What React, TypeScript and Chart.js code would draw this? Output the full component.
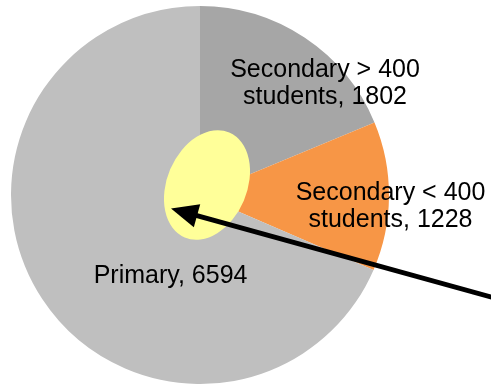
import React, { useEffect, useRef } from "react";
import { Chart, registerables } from "chart.js";

Chart.register(...registerables);

// School counts by type
const categories = ["Secondary > 400 students", "Secondary < 400 students", "Primary"];
const counts = [1802, 1228, 6594];
const sliceColors = ["#A6A6A6", "#F79646", "#BFBFBF"];

// Label anchor offsets, in units of the pie radius, from each slice's centroid
const labelOffsets = [
  [0.384, -0.185],
  [0.508, 0.047],
  [0.262, 0.146],
];

const FONT_SIZE = 25;
const FONT = `${FONT_SIZE}px 'Liberation Sans', Arial, sans-serif`;

function wrapText(ctx: CanvasRenderingContext2D, text: string, maxWidth: number): string[] {
  const words = text.split(" ");
  const lines: string[] = [];
  let cur = "";
  for (const w of words) {
    const test = cur ? cur + " " + w : w;
    if (cur && ctx.measureText(test).width > maxWidth) {
      lines.push(cur);
      cur = w;
    } else {
      cur = test;
    }
  }
  if (cur) lines.push(cur);
  return lines;
}

const sliceLabels = {
  id: "sliceLabels",
  afterDatasetsDraw(chart: any) {
    const ctx = chart.ctx as CanvasRenderingContext2D;
    const meta = chart.getDatasetMeta(0);
    ctx.save();
    ctx.font = FONT;
    ctx.fillStyle = "#000";
    ctx.textAlign = "center";
    ctx.textBaseline = "alphabetic";
    const lh = 26.5;
    const cap = 0.716 * FONT_SIZE;
    meta.data.forEach((arc: any, i: number) => {
      const p = arc.getProps(["x", "y", "startAngle", "endAngle", "outerRadius"], true);
      const mid = (p.startAngle + p.endAngle) / 2;
      const r = p.outerRadius;
      const ax = p.x + Math.cos(mid) * r / 2 + labelOffsets[i][0] * r;
      const ay = p.y + Math.sin(mid) * r / 2 + labelOffsets[i][1] * r;
      const lines = wrapText(ctx, `${categories[i]}, ${counts[i]}`, 205);
      const y0 = ay - ((lines.length - 1) * lh) / 2 + cap / 2;
      lines.forEach((ln, k) => ctx.fillText(ln, ax, y0 + k * lh));
    });
    ctx.restore();
  },
};

// Highlight ellipse at the hub with a pointer arrow
const hubCallout = {
  id: "hubCallout",
  afterDraw(chart: any) {
    const ctx = chart.ctx as CanvasRenderingContext2D;
    const arc = chart.getDatasetMeta(0).data[0];
    const { x: cx, y: cy } = arc.getProps(["x", "y"], true);
    ctx.save();
    ctx.beginPath();
    ctx.ellipse(cx + 7, cy - 10, 40, 57, (23 * Math.PI) / 180, 0, Math.PI * 2);
    ctx.fillStyle = "#FFFF99";
    ctx.fill();

    const tx = cx - 29, ty = cy + 13.5;
    const sx = cx + 300, sy = cy + 104.5;
    const ang = Math.atan2(ty - sy, tx - sx);
    const headLen = 27, headHalf = 12;
    const bx = tx - Math.cos(ang) * headLen;
    const by = ty - Math.sin(ang) * headLen;
    ctx.strokeStyle = "#000";
    ctx.lineWidth = 5;
    ctx.beginPath();
    ctx.moveTo(sx, sy);
    ctx.lineTo(bx + Math.cos(ang) * 2, by + Math.sin(ang) * 2);
    ctx.stroke();
    ctx.beginPath();
    ctx.moveTo(tx, ty);
    ctx.lineTo(bx - Math.sin(ang) * headHalf, by + Math.cos(ang) * headHalf);
    ctx.lineTo(bx + Math.sin(ang) * headHalf, by - Math.cos(ang) * headHalf);
    ctx.closePath();
    ctx.fillStyle = "#000";
    ctx.fill();
    ctx.restore();
  },
};

export default function App() {
  const ref = useRef<HTMLCanvasElement | null>(null);
  useEffect(() => {
    if (!ref.current) return;
    const chart = new Chart(ref.current, {
      type: "pie",
      data: {
        labels: categories,
        datasets: [
          {
            data: counts,
            backgroundColor: sliceColors,
            borderWidth: 0,
          },
        ],
      },
      options: {
        responsive: false,
        animation: false,
        devicePixelRatio: 1,
        layout: { padding: { left: 11, top: 6, right: 102, bottom: 0 } },
        plugins: { legend: { display: false }, tooltip: { enabled: false } },
      },
      plugins: [sliceLabels, hubCallout],
    });
    return () => chart.destroy();
  }, []);
  return (
    <div
      style={{
        position: "absolute",
        left: 0,
        top: 0,
        width: 491,
        height: 384,
        overflow: "hidden",
        background: "#fff",
      }}
    >
      <canvas ref={ref} width={491} height={384} />
    </div>
  );
}
